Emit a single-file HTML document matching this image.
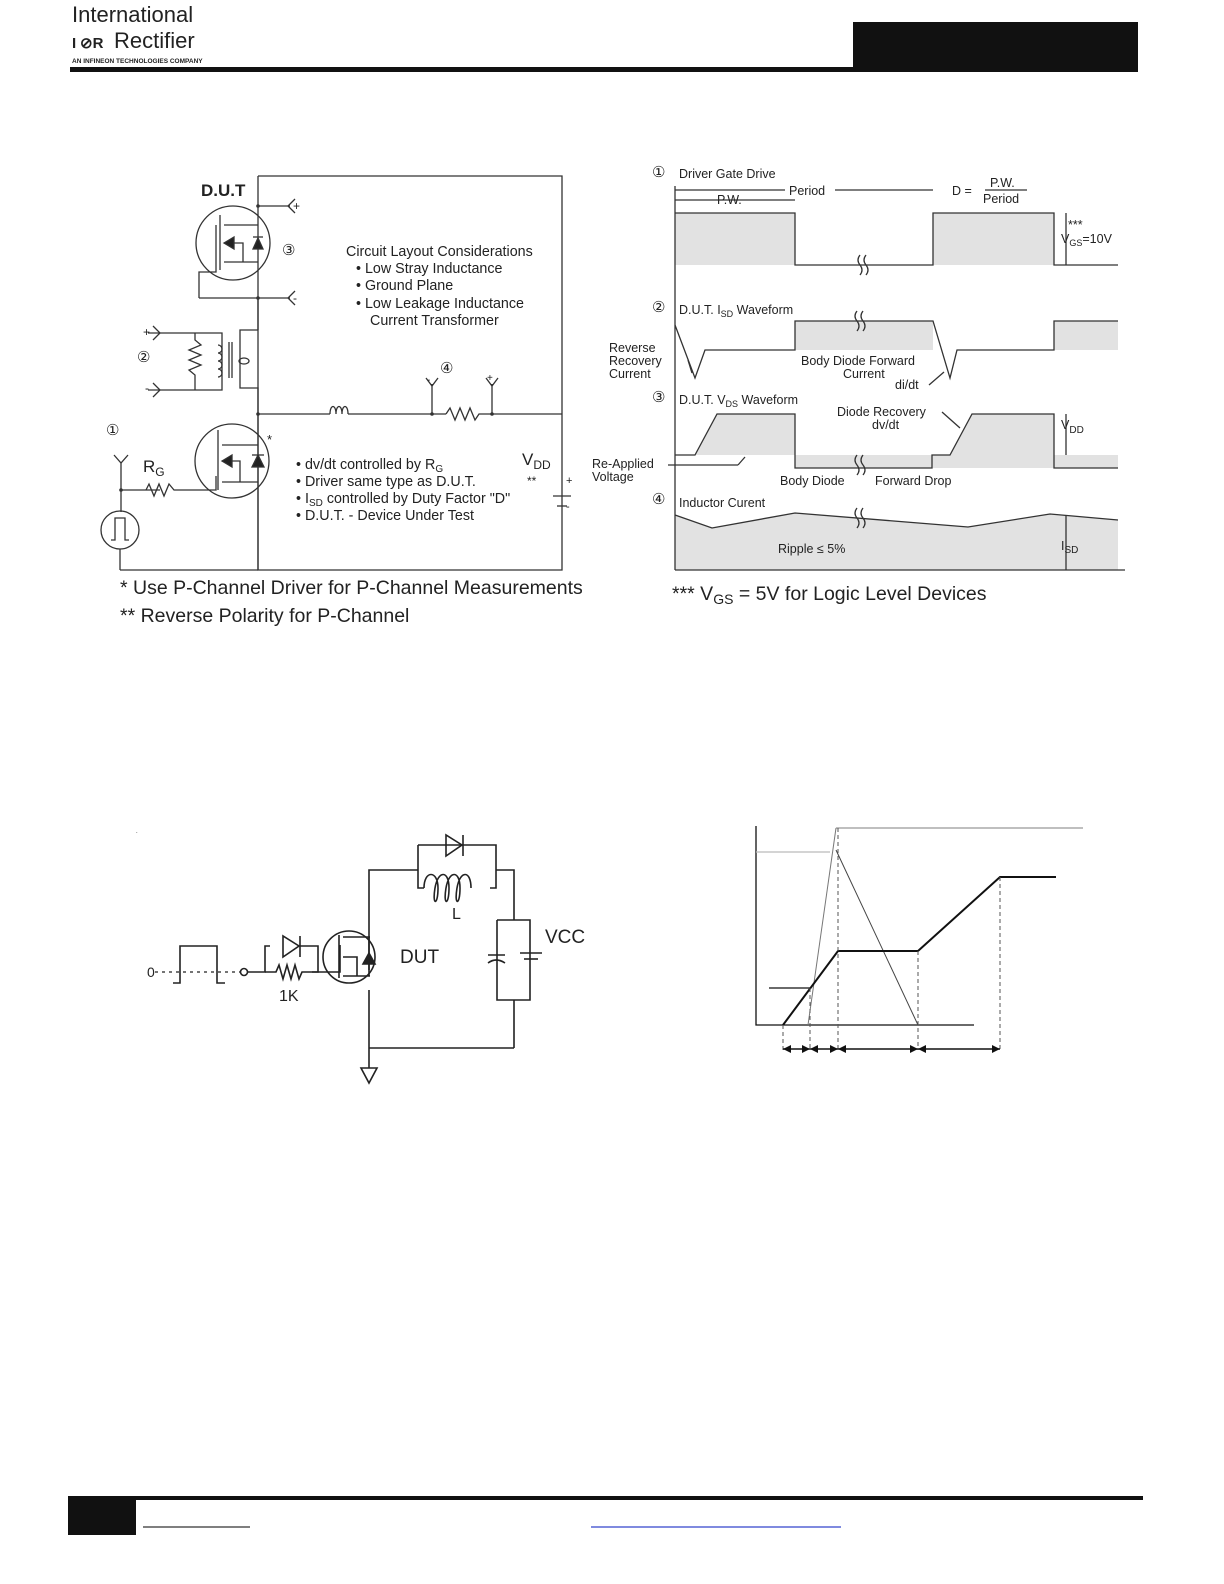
<!DOCTYPE html>
<html><head><meta charset="utf-8"><style>
body{margin:0;background:#fff}
svg{display:block}
text{font-family:"Liberation Sans",sans-serif;fill:#222}
</style></head><body>
<svg width="1224" height="1584" viewBox="0 0 1224 1584" xmlns="http://www.w3.org/2000/svg">
<!-- header -->
<text x="72" y="22" font-size="22" fill="#333">International</text>
<text x="72" y="48" font-size="15" font-weight="bold" fill="#d0202a">I</text>
<text x="80" y="48" font-size="15" font-weight="bold" fill="#d0202a">⊘R</text>
<text x="114" y="48" font-size="22" fill="#333">Rectifier</text>
<text x="72" y="63" font-size="6.5" font-weight="bold" fill="#111">AN INFINEON TECHNOLOGIES COMPANY</text>
<rect x="853" y="22" width="285" height="50" fill="#111"/>
<rect x="70" y="67" width="1068" height="5" fill="#111"/>

<!-- left circuit -->
<g stroke="#333" stroke-width="1.3" fill="none">
<polyline points="258,176 562,176 562,570 258,570 258,176"/>
<line x1="258" y1="206" x2="290" y2="206"/><line x1="258" y1="298" x2="290" y2="298"/>
<polyline points="295,199 288,206 295,213"/><polyline points="295,291 288,298 295,305"/>
<circle cx="233" cy="243" r="37"/>
<line x1="220" y1="215" x2="220" y2="270"/>
<polyline points="224,225 258,225"/><polyline points="224,262 258,262"/>
<polyline points="199,298 199,272 216,272 216,225"/>
<line x1="199" y1="298" x2="258" y2="298"/>
<polyline points="224,243 243,243 243,262"/>
<polygon points="224,243 234,237 234,249" fill="#222"/>
<polygon points="253,249 263,249 258,238" fill="#222"/>
<line x1="253" y1="237" x2="263" y2="237"/>
<!-- transformer -->
<line x1="258" y1="298" x2="258" y2="330"/>
<polyline points="258,330 240,330 240,388 258,388 258,570"/>
<line x1="148" y1="333" x2="195" y2="333"/><line x1="148" y1="390" x2="195" y2="390"/>
<polyline points="153,326 160,333 153,340"/><polyline points="153,383 160,390 153,397"/>
<polyline points="195,333 195,340 201,345 189,350 201,355 189,360 201,365 189,370 195,375 195,390"/>
<polyline points="195,333 222,333 222,390 195,390"/>
<path d="M218,345 a4,4 0 1,1 0,8 a4,4 0 1,1 0,8 a4,4 0 1,1 0,8 a4,4 0 1,1 0,8"/>
<line x1="229" y1="342" x2="229" y2="378"/><line x1="232" y1="342" x2="232" y2="378"/>
<ellipse cx="244" cy="361" rx="5" ry="3"/>
<!-- main horizontal -->
<line x1="258" y1="414" x2="330" y2="414"/>
<path d="M330,414 c0,-10 6,-10 6,0 c0,-10 6,-10 6,0 c0,-10 6,-10 6,0"/>
<line x1="348" y1="414" x2="446" y2="414"/>
<polyline points="446,414 450,408 455,420 460,408 465,420 470,408 475,420 479,414 562,414"/>
<line x1="432" y1="384" x2="432" y2="414"/><line x1="492" y1="384" x2="492" y2="414"/>
<polyline points="426,378 432,386 438,378"/><polyline points="486,378 492,386 498,378"/>
<!-- driver mosfet -->
<circle cx="232" cy="461" r="37"/>
<line x1="218" y1="430" x2="218" y2="490"/>
<polyline points="222,445 258,445"/><polyline points="222,482 258,482"/>
<polyline points="222,461 240,461 240,482"/>
<polygon points="222,461 232,455 232,467" fill="#222"/>
<polygon points="252,467 264,467 258,455" fill="#222"/>
<line x1="252" y1="455" x2="264" y2="455"/>
<polyline points="121,490 160,490"/>
<polyline points="146,490 149,484 154,496 159,484 164,496 169,484 174,490 216,490 216,476"/>
<line x1="121" y1="463" x2="121" y2="512"/>
<polyline points="114,455 121,463 128,455"/>
<circle cx="120" cy="530" r="19"/>
<polyline points="111,540 115,540 115,518 125,518 125,540 129,540"/>
<line x1="120" y1="549" x2="120" y2="570"/><line x1="120" y1="570" x2="258" y2="570"/>
<!-- battery -->
<line x1="553" y1="496" x2="571" y2="496"/><line x1="557" y1="506" x2="567" y2="506"/>
</g>
<circle cx="258" cy="206" r="1.8" fill="#333"/><circle cx="258" cy="298" r="1.8" fill="#333"/>
<circle cx="258" cy="414" r="1.8" fill="#333"/><circle cx="432" cy="414" r="1.8" fill="#333"/><circle cx="492" cy="414" r="1.8" fill="#333"/>
<circle cx="121" cy="490" r="1.8" fill="#333"/>
<text x="201" y="196" font-size="17" font-weight="bold">D.U.T</text>
<text x="293" y="210" font-size="12">+</text><text x="293" y="302" font-size="12">-</text>
<text x="143" y="336" font-size="12">+</text><text x="145" y="392" font-size="12">-</text>
<text x="427" y="383" font-size="10">-</text><text x="487" y="381" font-size="10">+</text>
<text x="282" y="255" font-size="15">③</text>
<text x="137" y="362" font-size="15">②</text>
<text x="440" y="373" font-size="15">④</text>
<text x="106" y="435" font-size="15">①</text>
<text x="143" y="472" font-size="17">R<tspan font-size="12" dy="4">G</tspan></text>
<text x="267" y="444" font-size="13">*</text>
<text x="522" y="465" font-size="17">V<tspan font-size="12" dy="4">DD</tspan></text>
<text x="527" y="485" font-size="12">**</text>
<text x="566" y="484" font-size="11">+</text><text x="566" y="510" font-size="11">-</text>
<g font-size="14.3">
<text x="346" y="256">Circuit Layout Considerations</text>
<text x="356" y="273">•  Low Stray Inductance</text>
<text x="356" y="290">•  Ground Plane</text>
<text x="356" y="308">•  Low Leakage Inductance</text>
<text x="370" y="325">Current Transformer</text>
<text x="296" y="469">•  dv/dt controlled by R<tspan font-size="10" dy="3">G</tspan></text>
<text x="296" y="486">•  Driver same type as D.U.T.</text>
<text x="296" y="503">•  I<tspan font-size="10" dy="3">SD</tspan><tspan dy="-3"> controlled by Duty Factor "D"</tspan></text>
<text x="296" y="520">•  D.U.T. - Device Under Test</text>
</g>
<text x="120" y="594" font-size="19.5">* Use P-Channel Driver for P-Channel Measurements</text>
<text x="120" y="622" font-size="19.5">** Reverse Polarity for P-Channel</text>

<!-- right waveforms -->
<g fill="#e2e2e2" stroke="none">
<rect x="675" y="213" width="120" height="52"/><rect x="933" y="213" width="121" height="52"/>
<rect x="795" y="321" width="138" height="29"/><rect x="1054" y="321" width="64" height="29"/>
<polygon points="695,455 717,414 795,414 795,455"/>
<rect x="795" y="455" width="323" height="13"/>
<polygon points="950,455 972,414 1054,414 1054,455"/>
<polygon points="675,515 712,528 795,513 968,527 1050,514 1118,520 1118,570 675,570"/>
</g>
<g stroke="#333" stroke-width="1.3" fill="none">
<line x1="675" y1="186" x2="675" y2="570"/><line x1="675" y1="570" x2="1125" y2="570"/>
<polyline points="675,213 795,213 795,265 933,265 933,213 1054,213 1054,265 1118,265"/>
<polyline points="675,325 695,378 705,350 795,350 795,321 933,321 950,378 957,350 1054,350 1054,321 1118,321"/>
<polyline points="675,455 695,455 717,414 795,414 795,468 932,468 932,455 950,455 972,414 1054,414 1054,468 1118,468"/>
<polyline points="675,515 712,528 795,513 968,527 1050,514 1118,520"/>
<line x1="675" y1="190" x2="785" y2="190"/><line x1="835" y1="190" x2="933" y2="190"/>
<line x1="675" y1="200" x2="795" y2="200"/>
<line x1="985" y1="190" x2="1027" y2="190"/>
<line x1="1066" y1="213" x2="1066" y2="265"/><line x1="1066" y1="414" x2="1066" y2="455"/><line x1="1066" y1="515" x2="1066" y2="570"/>
<line x1="668" y1="465" x2="738" y2="465"/><line x1="738" y1="465" x2="745" y2="457"/>
<line x1="688" y1="360" x2="692" y2="373"/>
<line x1="929" y1="385" x2="944" y2="372"/>
<line x1="942" y1="412" x2="960" y2="428"/>
<path d="M860,255 q-4,5 0,10 q4,5 0,10 M866,255 q-4,5 0,10 q4,5 0,10"/>
<path d="M857,311 q-4,5 0,10 q4,5 0,10 M863,311 q-4,5 0,10 q4,5 0,10"/>
<path d="M857,455 q-4,5 0,10 q4,5 0,10 M863,455 q-4,5 0,10 q4,5 0,10"/>
<path d="M857,508 q-4,5 0,10 q4,5 0,10 M863,508 q-4,5 0,10 q4,5 0,10"/>
</g>
<g font-size="12.5">
<text x="652" y="177" font-size="15">①</text><text x="679" y="178">Driver Gate Drive</text>
<text x="789" y="195">Period</text><text x="717" y="204">P.W.</text>
<text x="952" y="195">D =</text><text x="990" y="187">P.W.</text><text x="983" y="203">Period</text>
<text x="1068" y="229">***</text><text x="1061" y="243">V<tspan font-size="9" dy="3">GS</tspan><tspan dy="-3">=10V</tspan></text>
<text x="652" y="312" font-size="15">②</text><text x="679" y="314">D.U.T. I<tspan font-size="9" dy="3">SD</tspan><tspan dy="-3"> Waveform</tspan></text>
<text x="609" y="352">Reverse</text><text x="609" y="365">Recovery</text><text x="609" y="378">Current</text>
<text x="801" y="365">Body  Diode  Forward</text><text x="843" y="378">Current</text><text x="895" y="389">di/dt</text>
<text x="652" y="402" font-size="15">③</text><text x="679" y="404">D.U.T. V<tspan font-size="9" dy="3">DS</tspan><tspan dy="-3"> Waveform</tspan></text>
<text x="837" y="416">Diode  Recovery</text><text x="872" y="429">dv/dt</text>
<text x="1061" y="429">V<tspan font-size="10" dy="4">DD</tspan></text>
<text x="592" y="468">Re-Applied</text><text x="592" y="481">Voltage</text>
<text x="780" y="485">Body  Diode</text><text x="875" y="485">Forward  Drop</text>
<text x="652" y="504" font-size="15">④</text><text x="679" y="507">Inductor Curent</text>
<text x="778" y="553">Ripple  ≤  5%</text>
<text x="1061" y="550">I<tspan font-size="10" dy="3">SD</tspan></text>
</g>
<text x="672" y="600" font-size="19.5">*** V<tspan font-size="14" dy="4">GS</tspan><tspan dy="-4"> = 5V for Logic Level Devices</tspan></text>

<!-- bottom left circuit -->
<g stroke="#222" stroke-width="1.6" fill="none">
<polyline points="369,970 369,870 418,870"/>
<polyline points="418,845 418,888 424,888"/>
<polyline points="418,845 496,845 496,888 490,888"/>
<path d="M424,888 c0,-18 14,-18 14,0 c0,18 -6,18 -3,0 c3,-18 14,-18 14,0 c0,18 -6,18 -3,0 c3,-18 14,-18 14,0 c0,18 -6,18 -3,0 c3,-18 14,-18 14,0" />
<polygon points="446,835 446,856 462,845"/><line x1="463" y1="835" x2="463" y2="856"/>
<polyline points="496,870 514,870 514,920"/>
<polyline points="497,920 530,920 530,1000 497,1000 497,920"/>
<line x1="514" y1="1000" x2="514" y2="1048"/>
<line x1="369" y1="990" x2="369" y2="1048"/><line x1="369" y1="1048" x2="514" y2="1048"/>
<line x1="369" y1="1048" x2="369" y2="1068"/>
<polygon points="361,1068 377,1068 369,1083"/>
<line x1="488" y1="955" x2="505" y2="955"/><path d="M488,963 q8,-6 17,0"/>
<line x1="520" y1="953" x2="542" y2="953"/><line x1="524" y1="959" x2="538" y2="959"/>
<polyline points="173,983 180,983 180,946 217,946 217,983 225,983"/>
<circle cx="244" cy="972" r="3.5"/>
<polyline points="247,972 265,972 265,946 270,946"/>
<polygon points="283,936 283,957 299,946"/><line x1="300" y1="936" x2="300" y2="957"/>
<polyline points="300,946 318,946 318,972 312,972"/>
<polyline points="265,972 276,972 279,965 283,979 287,965 291,979 295,965 299,979 302,972 312,972 340,972 340,945"/>
<circle cx="349" cy="957" r="26"/>
<line x1="339" y1="935" x2="339" y2="978"/>
<line x1="343" y1="937" x2="370" y2="937"/><line x1="343" y1="976" x2="370" y2="976"/>
<polyline points="343,957 357,957 357,976"/>
<line x1="369" y1="937" x2="369" y2="976"/>
<polygon points="363,964 375,964 369,953" fill="#222"/>
</g>
<line x1="155" y1="972" x2="240" y2="972" stroke="#222" stroke-width="1.2" stroke-dasharray="3,4"/>
<text x="147" y="977" font-size="14">0</text>
<text x="279" y="1001" font-size="16">1K</text>
<text x="452" y="919" font-size="16">L</text>
<text x="400" y="963" font-size="19">DUT</text>
<text x="545" y="943" font-size="19">VCC</text>
<text x="136" y="833" font-size="6">.</text>

<!-- bottom right graph -->
<g fill="none">
<polyline points="756,826 756,1025 974,1025" stroke="#111" stroke-width="1.3"/>
<line x1="836" y1="828" x2="1083" y2="828" stroke="#999" stroke-width="1.3"/>
<line x1="756" y1="852" x2="830" y2="852" stroke="#bbb" stroke-width="1.3"/>
<line x1="808" y1="1025" x2="836" y2="828" stroke="#777" stroke-width="1"/>
<line x1="836" y1="850" x2="918" y2="1025" stroke="#444" stroke-width="1"/>
<polyline points="783,1025 838,951 918,951 1000,877 1056,877" stroke="#111" stroke-width="2"/>
<line x1="769" y1="988" x2="810" y2="988" stroke="#111" stroke-width="1.2"/>
<g stroke="#555" stroke-width="1" stroke-dasharray="4,3">
<line x1="783" y1="1025" x2="783" y2="1050"/><line x1="810" y1="988" x2="810" y2="1050"/>
<line x1="838" y1="828" x2="838" y2="1050"/><line x1="918" y1="951" x2="918" y2="1050"/>
<line x1="1000" y1="877" x2="1000" y2="1050"/>
</g>
<line x1="783" y1="1049" x2="1000" y2="1049" stroke="#111" stroke-width="1.5"/>
</g>
<g fill="#111">
<polygon points="783,1049 791,1045 791,1053"/><polygon points="810,1049 802,1045 802,1053"/>
<polygon points="810,1049 818,1045 818,1053"/><polygon points="838,1049 830,1045 830,1053"/>
<polygon points="838,1049 846,1045 846,1053"/><polygon points="918,1049 910,1045 910,1053"/>
<polygon points="918,1049 926,1045 926,1053"/><polygon points="1000,1049 992,1045 992,1053"/>
</g>

<!-- footer -->
<rect x="68" y="1496" width="1075" height="4" fill="#111"/>
<rect x="68" y="1496" width="68" height="39" fill="#111"/>
<line x1="143" y1="1527" x2="250" y2="1527" stroke="#333" stroke-width="1.2"/>
<line x1="591" y1="1527" x2="841" y2="1527" stroke="#3344cc" stroke-width="1.2"/>
</svg>
</body></html>
